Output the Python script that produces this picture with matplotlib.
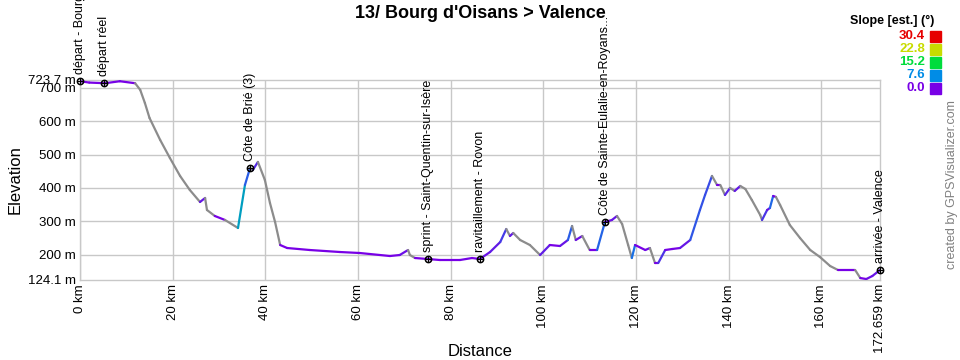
import numpy as np
import matplotlib
matplotlib.use("Agg")
import matplotlib.pyplot as plt
from matplotlib.collections import LineCollection
from matplotlib.colors import LinearSegmentedColormap

plt.rcParams['font.family'] = ['Liberation Sans', 'DejaVu Sans']

title = "13/ Bourg d'Oisans > Valence"

dist_km = [0.0, 2.0, 5.4, 8.6, 11.9, 13.0, 14.0, 15.0, 17.3, 19.4, 21.6, 23.7, 25.9, 27.0, 27.4,
           29.1, 31.3, 34.1, 35.6, 36.7, 37.3, 38.4, 39.9, 41.0, 42.1, 43.2, 44.7, 49.6, 56.1,
           60.4, 66.9, 69.0, 70.8, 71.2, 72.3, 75.1, 77.7, 82.0, 84.6, 86.3, 88.5, 90.7, 92.0,
           92.8, 93.5, 95.0, 97.1, 99.3, 101.4, 103.6, 105.3, 106.2, 107.0, 108.4, 110.0, 111.6,
           113.3, 114.8, 115.9, 117.0, 118.3, 119.1, 119.8, 122.0, 123.0, 124.1, 124.8, 126.3,
           127.8, 129.5, 131.7, 133.8, 134.9, 136.4, 137.5, 138.2, 139.2, 140.3, 141.3, 142.5,
           143.6, 145.0, 146.8, 147.2, 148.3, 148.9, 149.6, 150.2, 151.1, 153.2, 155.4, 157.6,
           159.7, 161.9, 163.6, 167.3, 168.4, 169.7, 171.0, 172.659]
elev_m = [720, 716, 714, 720, 714, 694, 655, 610, 544, 490, 436, 394, 358, 370, 334,
          316, 304, 280, 409, 460, 454, 478, 424, 355, 298, 229, 220, 214, 208,
          205, 196, 199, 214, 199, 190, 187, 184, 184, 190, 187, 208, 238, 277,
          256, 265, 244, 229, 199, 229, 226, 244, 286, 244, 256, 214, 214,
          298, 304, 316, 292, 229, 190, 229, 214, 220, 175, 175, 214,
          217, 220, 244, 334, 379, 436, 409, 409, 379, 400, 391, 406,
          397, 364, 319, 304, 334, 340, 376, 373, 349, 289, 250, 214,
          193, 166, 154, 154, 130, 127, 136, 154]

wp_names = ["départ - Bourg d'Oisans", "départ réel", "Côte de Brié (3)",
            "sprint - Saint-Quentin-sur-Isère", "ravitaillement - Rovon",
            "Côte de Sainte-Eulalie-en-Royans...", "arrivée - Valence"]
wp_km = [0.0, 5.2, 36.7, 75.1, 86.3, 113.3, 172.659]
wp_elev = [720, 714, 460, 187, 187, 298, 154]

x_ticks = [0, 20, 40, 60, 80, 100, 120, 140, 160, 172.659]
x_ticklabels = ["0 km", "20 km", "40 km", "60 km", "80 km", "100 km", "120 km",
                "140 km", "160 km", "172.659 km"]
y_ticks = [124.1, 200, 300, 400, 500, 600, 700, 723.7]
y_ticklabels = ["124.1 m", "200 m", "300 m", "400 m", "500 m", "600 m", "700 m", "723.7 m"]

legend_vals = ["30.4", "22.8", "15.2", "7.6", "0.0"]
legend_cols = ["#e60000", "#c8dc00", "#00dc3c", "#008ce6", "#7800e6"]

fig = plt.figure(figsize=(9.6, 3.6), dpi=100)
ax = fig.add_axes([80/960, 1-280/360, 800/960, 200/360])
xmin, xmax = 0, 172.659
ymin, ymax = 124.1, 723.7
ax.set_xlim(xmin, xmax)
ax.set_ylim(ymin, ymax)

grid_c = "#c8c8c8"
for s in ax.spines.values():
    s.set_color(grid_c)
    s.set_linewidth(1.0)
for xv in x_ticks[:-1]:
    ax.axvline(xv, color=grid_c, lw=1.0, zorder=0)
for yv in y_ticks[1:-1]:
    ax.axhline(yv, color=grid_c, lw=1.0, zorder=0)

ax.set_xticks(x_ticks)
ax.set_xticklabels(x_ticklabels, rotation=90, fontsize=9.5)
ax.set_yticks(y_ticks)
ax.set_yticklabels(y_ticklabels, fontsize=9.5)
ax.tick_params(length=0, pad=3)

# slope colouring
cmap = LinearSegmentedColormap.from_list(
    "slope", [(0, "#7800e6"), (0.25, "#008ce6"), (0.5, "#00dc3c"), (0.75, "#c8dc00"), (1, "#e60000")])
d = np.array(dist_km)
e = np.array(elev_m, dtype=float)
segs = [[(d[i], e[i]), (d[i+1], e[i+1])] for i in range(len(d)-1)]
cols = []
for i in range(len(d)-1):
    dz = e[i+1] - e[i]
    dx = (d[i+1] - d[i]) * 1000
    ang = np.degrees(np.arctan2(dz, dx))
    if ang < -0.4:
        cols.append("#8c8c8c")
    else:
        cols.append(cmap(min(max(ang, 0) / 16.0, 1.0)))
lc = LineCollection(segs, colors=cols, linewidths=1.6, zorder=3, capstyle='round')
ax.add_collection(lc)

# waypoints
ax.plot(wp_km, wp_elev, 'o', ms=4.5, mfc='none', mec='black', mew=1.1, zorder=5, clip_on=False)
ax.plot(wp_km, wp_elev, '+', ms=4.5, color='black', mew=0.8, zorder=5, clip_on=False)
for name, k, v in zip(wp_names, wp_km, wp_elev):
    ax.annotate(name, (k, v), xytext=(0, 5), textcoords='offset points', rotation=90,
                ha='center', va='bottom', fontsize=9, annotation_clip=False, zorder=6)

fig.text(0.5, 1-351/360, "Distance", ha='center', va='center', fontsize=12)
ax.set_ylabel("Elevation", fontsize=12, labelpad=4)

fig.text(0.5, 1-13/360, title, ha='center', va='center', fontsize=13, fontweight='bold')

# legend
fig.text(892/960, 1-21/360, "Slope [est.] (°)", ha='center', va='center', fontsize=9, fontweight='bold')
for i, (v, c) in enumerate(zip(legend_vals, legend_cols)):
    yc = 36 + 13*i
    fig.text(925/960, 1-yc/360, v, ha='right', va='center', fontsize=9.5, fontweight='bold', color=c)
    fig.patches.append(plt.Rectangle((930/960, 1-(yc+5.5)/360), 11/960, 11/360,
                                     transform=fig.transFigure, color=c, figure=fig))

fig.text(952/960, 1-185/360, "created by GPSVisualizer.com", rotation=90, ha='center', va='center',
         fontsize=9, color="#808080")

fig.savefig("out.png", dpi=100)
